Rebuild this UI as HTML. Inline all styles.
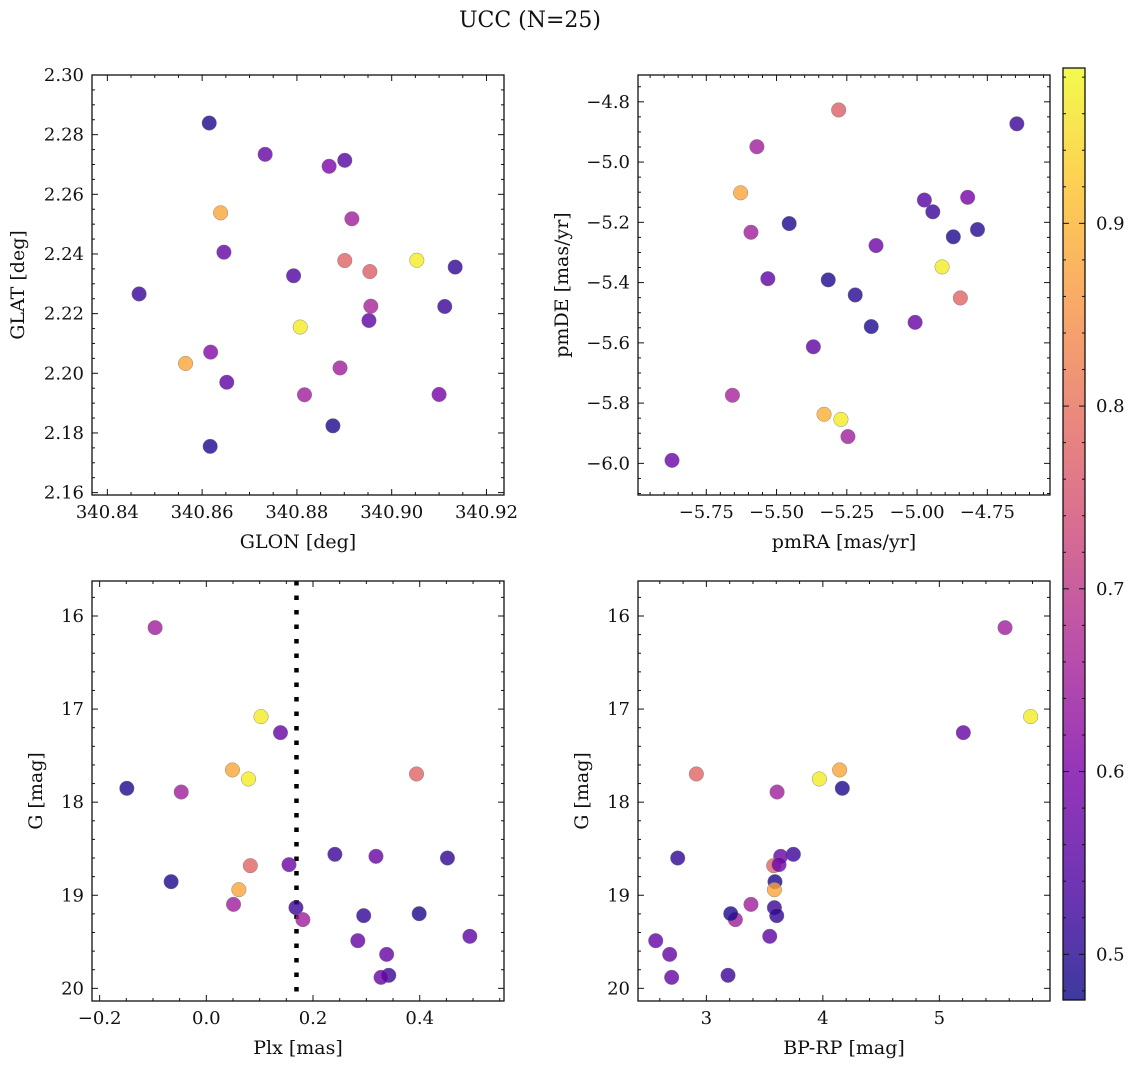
<!DOCTYPE html>
<html><head><meta charset="utf-8"><style>
html,body{margin:0;padding:0;background:#fff;}
svg text{font-family:"DejaVu Serif","Liberation Serif",serif;fill:#111;}
</style></head><body>
<svg id="fig" width="1136" height="1068" viewBox="0 0 1136 1068" xmlns="http://www.w3.org/2000/svg">
<defs>
<linearGradient id="cbg" x1="0" y1="1" x2="0" y2="0">
<stop offset="0" stop-color="#0d0887"/><stop offset="0.125" stop-color="#4c02a1"/><stop offset="0.25" stop-color="#7e03a8"/><stop offset="0.375" stop-color="#a92395"/><stop offset="0.5" stop-color="#cc4778"/><stop offset="0.625" stop-color="#e56b5d"/><stop offset="0.75" stop-color="#f89441"/><stop offset="0.875" stop-color="#fdc328"/><stop offset="1" stop-color="#f0f921"/>
</linearGradient>
</defs>
<text x="530" y="27" font-size="22" text-anchor="middle">UCC (N=25)</text>
</svg>
<script>
// ---- data ----
const glon=[340.8615,340.8733,340.8868,340.8901,340.8639,340.8916,340.8646,340.8901,340.9053,340.9134,340.8954,340.8793,340.8467,340.8956,340.9112,340.8952,340.8807,340.8618,340.8565,340.8891,340.8652,340.8816,340.9100,340.8876,340.8617];
const glat=[2.2839,2.2734,2.2694,2.2714,2.2538,2.2518,2.2406,2.2378,2.2379,2.2356,2.2341,2.2327,2.2266,2.2225,2.2224,2.2177,2.2155,2.2071,2.2033,2.2018,2.1970,2.1928,2.1929,2.1824,2.1755];
const probA=[0.49,0.57,0.60,0.55,0.88,0.65,0.57,0.78,0.97,0.51,0.77,0.54,0.52,0.66,0.52,0.56,0.97,0.61,0.88,0.65,0.56,0.65,0.59,0.49,0.49];
const pmra=[-5.279,-4.645,-5.570,-5.628,-4.820,-4.974,-4.944,-5.455,-4.785,-5.591,-4.871,-5.146,-4.911,-5.531,-5.316,-5.220,-4.846,-5.007,-5.163,-5.369,-5.657,-5.331,-5.271,-5.246,-5.872];
const pmde=[-4.827,-4.873,-4.949,-5.102,-5.117,-5.126,-5.165,-5.204,-5.224,-5.233,-5.248,-5.277,-5.348,-5.387,-5.391,-5.441,-5.451,-5.532,-5.546,-5.613,-5.774,-5.837,-5.854,-5.911,-5.990];
const probB=[0.77,0.52,0.65,0.88,0.59,0.55,0.52,0.49,0.50,0.65,0.49,0.58,0.97,0.56,0.49,0.50,0.78,0.57,0.49,0.56,0.66,0.89,0.97,0.65,0.58];
const plx=[-0.096,0.1025,0.139,0.049,0.079,0.394,-0.149,-0.047,0.241,0.318,0.452,0.0825,0.155,-0.066,0.061,0.051,0.168,0.181,0.295,0.399,0.494,0.284,0.338,0.342,0.3275];
const gmag=[16.125,17.081,17.253,17.654,17.751,17.697,17.851,17.891,18.560,18.582,18.600,18.682,18.671,18.854,18.940,19.098,19.133,19.262,19.219,19.198,19.441,19.488,19.635,19.860,19.882];
const bprp=[5.564,5.784,5.206,4.144,3.970,2.914,4.167,3.607,3.747,3.638,2.754,3.578,3.624,3.589,3.584,3.383,3.584,3.249,3.604,3.209,3.544,2.565,2.685,3.186,2.702];
const probC=[0.65,0.97,0.57,0.88,0.97,0.78,0.49,0.65,0.52,0.57,0.51,0.78,0.58,0.49,0.88,0.65,0.52,0.65,0.51,0.49,0.56,0.57,0.57,0.52,0.57];
const plxLine=0.169;
const cbTicks=[0.5,0.6,0.7,0.8,0.9];
const vmin=0.475, vmax=0.985;

const NS="http://www.w3.org/2000/svg";
const svg=document.getElementById('fig');
function mk(tag,attrs,parent){const e=document.createElementNS(NS,tag);for(const k in attrs)e.setAttribute(k,attrs[k]);(parent||svg).appendChild(e);return e;}
const stops=[[0,[13,8,135]],[0.125,[76,2,161]],[0.25,[126,3,168]],[0.375,[169,35,149]],[0.5,[204,71,120]],[0.625,[229,107,93]],[0.75,[248,148,65]],[0.875,[253,195,40]],[1,[240,249,33]]];
function plasma(t){t=Math.max(0,Math.min(1,t));for(let i=1;i<stops.length;i++){if(t<=stops[i][0]){const a=stops[i-1],b=stops[i];const f=(t-a[0])/(b[0]-a[0]);const c=a[1].map((v,j)=>Math.round(v+(b[1][j]-v)*f));return `rgb(${c[0]},${c[1]},${c[2]})`;}}return 'rgb(240,249,33)';}
function fmt(v,d){const s=v.toFixed(d);return v<0?'\u2212'+s.slice(1):s;}

function panel(p){
  const g=mk('g',{});
  
  
  const sx=v=>p.x0+(v-p.xmin)/(p.xmax-p.xmin)*(p.x1-p.x0);
  const sy=v=>p.inv? p.y0+(v-p.ymin)/(p.ymax-p.ymin)*(p.y1-p.y0) : p.y1-(v-p.ymin)/(p.ymax-p.ymin)*(p.y1-p.y0);
  const eps=1e-9;
  function ticks(min,max,step){const r=[];let s=Math.ceil((min-eps)/step)*step;for(let v=s;v<=max+eps;v+=step)r.push(+v.toFixed(6));return r;}
  ticks(p.xmin,p.xmax,p.xmaj/p.xsub).forEach(v=>{const maj=Math.abs(v/p.xmaj-Math.round(v/p.xmaj))<1e-4;const L=maj?6:3;const x=sx(v);
    mk('line',{x1:x,x2:x,y1:p.y1,y2:p.y1-L,stroke:'#111','stroke-width':1},g);
    mk('line',{x1:x,x2:x,y1:p.y0,y2:p.y0+L,stroke:'#111','stroke-width':1},g);
    if(maj){const t=mk('text',{x:x,y:p.y1+23,'font-size':18,'text-anchor':'middle'},g);t.textContent=fmt(v,p.xd);}});
  ticks(Math.min(p.ymin,p.ymax),Math.max(p.ymin,p.ymax),p.ymaj/p.ysub).forEach(v=>{const maj=Math.abs(v/p.ymaj-Math.round(v/p.ymaj))<1e-4;const L=maj?6:3;const y=sy(v);
    mk('line',{x1:p.x0,x2:p.x0+L,y1:y,y2:y,stroke:'#111','stroke-width':1},g);
    mk('line',{x1:p.x1,x2:p.x1-L,y1:y,y2:y,stroke:'#111','stroke-width':1},g);
    if(maj){const t=mk('text',{x:p.x0-8,y:y+6,'font-size':18,'text-anchor':'end'},g);t.textContent=fmt(v,p.yd);}});
  if(p.vline!==undefined){const l=mk('line',{x1:sx(p.vline),x2:sx(p.vline),y1:p.y0,y2:p.y1,stroke:'#000','stroke-width':4.5,'stroke-dasharray':'4.5 10'},g);}
  p.xs.forEach((xv,i)=>{const c=mk('circle',{cx:sx(xv),cy:sy(p.ys[i]),r:7.3,fill:plasma((p.c[i]-vmin)/(vmax-vmin)),'fill-opacity':0.8,stroke:'#777','stroke-width':0.4},g);
    
    });
  const fr=mk('rect',{x:p.x0,y:p.y0,width:p.x1-p.x0,height:p.y1-p.y0,fill:'none',stroke:'#111','stroke-width':1.3},g);
  
  const xl=mk('text',{x:(p.x0+p.x1)/2,y:p.y1+53,'font-size':19,'text-anchor':'middle'},g);xl.textContent=p.xlab;
  
  const yx=p.ylx,yy=(p.y0+p.y1)/2;
  const yl=mk('text',{x:yx,y:yy,'font-size':19,'text-anchor':'middle',transform:`rotate(-90 ${yx} ${yy})`},g);yl.textContent=p.ylab;
  
}
panel({name:'glon-glat-panel',x0:92,x1:504,y0:75,y1:495,xmin:340.83676,xmax:340.9237,ymin:2.1592,ymax:2.30,xmaj:0.02,xsub:4,ymaj:0.02,ysub:4,xd:2,yd:2,xs:glon,ys:glat,c:probA,xlab:'GLON [deg]',ylab:'GLAT [deg]',ylx:24});
panel({name:'pm-panel',x0:638,x1:1050,y0:75,y1:495,xmin:-5.993,xmax:-4.527,ymin:-6.105,ymax:-4.711,xmaj:0.25,xsub:5,ymaj:0.2,ysub:4,xd:2,yd:1,xs:pmra,ys:pmde,c:probB,xlab:'pmRA [mas/yr]',ylab:'pmDE [mas/yr]',ylx:568});
panel({name:'plx-g-panel',x0:92,x1:504,y0:581,y1:1001,xmin:-0.2143,xmax:0.558,ymin:15.624,ymax:20.136,inv:true,xmaj:0.2,xsub:4,ymaj:1,ysub:5,xd:1,yd:0,xs:plx,ys:gmag,c:probC,xlab:'Plx [mas]',ylab:'G [mag]',ylx:42,vline:plxLine});
panel({name:'cmd-panel',x0:638,x1:1050,y0:581,y1:1001,xmin:2.413,xmax:5.95,ymin:15.624,ymax:20.136,inv:true,xmaj:1,xsub:5,ymaj:1,ysub:5,xd:0,yd:0,xs:bprp,ys:gmag,c:probC,xlab:'BP-RP [mag]',ylab:'G [mag]',ylx:588});

// colorbar
const cb=mk('g',{});


const cx0=1063,cx1=1085,cy0=68,cy1=1000;
mk('rect',{x:cx0,y:cy0,width:cx1-cx0,height:cy1-cy0,fill:'url(#cbg)','fill-opacity':0.8},cb);
const cys=v=>cy1-(v-vmin)/(vmax-vmin)*(cy1-cy0);
for(let v=0.48;v<=vmax+1e-9;v+=0.02){const vv=+v.toFixed(3);const maj=Math.abs(vv*10-Math.round(vv*10))<1e-4;const y=cys(vv);
  mk('line',{x1:cx1,x2:cx1-(maj?6:3),y1:y,y2:y,stroke:'#111','stroke-width':1},cb);
  mk('line',{x1:cx0,x2:cx0+(maj?6:3),y1:y,y2:y,stroke:'#111','stroke-width':1},cb);}
cbTicks.forEach(v=>{const t=mk('text',{x:cx1+11,y:cys(v)+6,'font-size':18},cb);t.textContent=v.toFixed(1);
  
  });
mk('rect',{x:cx0,y:cy0,width:cx1-cx0,height:cy1-cy0,fill:'none',stroke:'#111','stroke-width':1.3},cb);
</script>
</body></html>
